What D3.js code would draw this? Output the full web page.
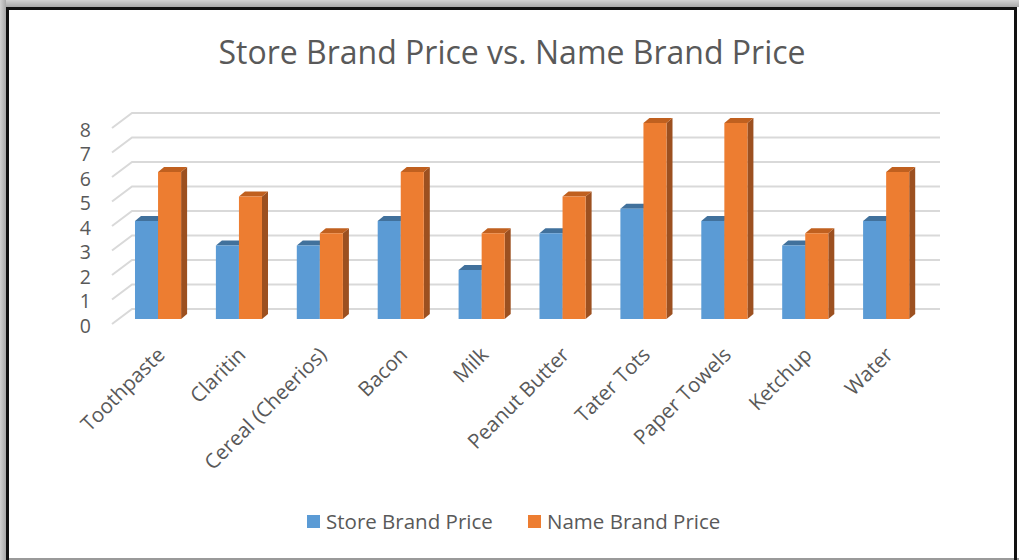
<!DOCTYPE html>
<html>
<head>
<meta charset="utf-8">
<script src="https://cdn.jsdelivr.net/npm/d3@7"></script>
<style>
  body { margin: 0; background: #fff; }
  svg { display: block; font-family: "Open Sans", sans-serif; }
</style>
</head>
<body>
<svg width="1019" height="560"></svg>
<script>
const categories = ["Toothpaste", "Claritin", "Cereal (Cheerios)", "Bacon", "Milk",
  "Peanut Butter", "Tater Tots", "Paper Towels", "Ketchup", "Water"];
const storeBrand = [4, 3, 3, 4, 2, 3.5, 4.5, 4, 3, 4];
const nameBrand = [6, 5, 3.5, 6, 3.5, 5, 8, 8, 3.5, 6];
const seriesNames = ["Store Brand Price", "Name Brand Price"];
const yTicks = [0, 1, 2, 3, 4, 5, 6, 7, 8];

const width = 1019;
const height = 560;

const colors = {
  "Store Brand Price": { front: "#5b9bd5", top: "#41719c", side: "#3f6f9a" },
  "Name Brand Price": { front: "#ed7d31", top: "#c0601f", side: "#9c5020" }
};

const svg = d3.select("svg")
  .attr("width", width)
  .attr("height", height);

// frame: grey shadow top/left, dark border
const defs = svg.append("defs");
const gTop = defs.append("linearGradient").attr("id", "shTop")
  .attr("x1", 0).attr("y1", 0).attr("x2", 0).attr("y2", 1);
gTop.append("stop").attr("offset", 0).attr("stop-color", "#d2d2d2");
gTop.append("stop").attr("offset", 1).attr("stop-color", "#a8a8a8");
const gLeft = defs.append("linearGradient").attr("id", "shLeft")
  .attr("x1", 0).attr("y1", 0).attr("x2", 1).attr("y2", 0);
gLeft.append("stop").attr("offset", 0).attr("stop-color", "#d2d2d2");
gLeft.append("stop").attr("offset", 1).attr("stop-color", "#a8a8a8");

svg.append("rect").attr("width", width).attr("height", height).attr("fill", "#fff");
svg.append("rect").attr("x", 0).attr("y", 0).attr("width", width).attr("height", 7)
  .attr("fill", "url(#shTop)");
svg.append("rect").attr("x", 0).attr("y", 0).attr("width", 6).attr("height", height)
  .attr("fill", "url(#shLeft)");
svg.append("line").attr("x1", 7).attr("x2", width).attr("y1", 559).attr("y2", 559)
  .attr("stroke", "#9a9a9a").attr("stroke-width", 2);
svg.append("rect").attr("x", 7.5).attr("y", 8.5).attr("width", 1008).attr("height", 560)
  .attr("fill", "none").attr("stroke", "#111").attr("stroke-width", 3);

// title
svg.append("text")
  .attr("x", 512)
  .attr("y", 64)
  .attr("text-anchor", "middle")
  .attr("fill", "#595959")
  .attr("font-size", 32)
  .text("Store Brand Price vs. Name Brand Price");

// scales: back wall and front plane of bars
const yBack = d3.scaleLinear().domain([0, 8]).range([309, 113]);
const yBar = d3.scaleLinear().domain([0, 8]).range([319, 123]);

const x = d3.scaleBand()
  .domain(categories)
  .range([117.6, 926.6])
  .paddingInner(0.43)
  .paddingOuter(0.215);

const xSeries = d3.scaleBand()
  .domain(seriesNames)
  .range([0, x.bandwidth()]);

const wallDx = 20, wallDy = -15;   // side wall depth
const barDx = 6, barDy = -5;       // bar depth

// gridlines on back wall + side wall diagonals
const grid = svg.append("g")
  .attr("stroke", "#d9d9d9")
  .attr("stroke-width", 2)
  .attr("fill", "none");

grid.selectAll("path")
  .data(yTicks)
  .enter().append("path")
  .attr("d", d => `M${132 - wallDx},${yBack(d) - wallDy} L132,${yBack(d)} L940,${yBack(d)}`);

// y labels
svg.append("g")
  .selectAll("text")
  .data(yTicks)
  .enter().append("text")
  .attr("x", 91)
  .attr("y", d => yBack(d) - wallDy + 2)
  .attr("dy", "0.35em")
  .attr("text-anchor", "end")
  .attr("fill", "#595959")
  .attr("font-size", 19.5)
  .text(d => d);

// bars
const rows = categories.map((c, i) => ({
  category: c,
  values: [
    { series: seriesNames[0], value: storeBrand[i] },
    { series: seriesNames[1], value: nameBrand[i] }
  ]
}));

const groups = svg.append("g")
  .selectAll("g")
  .data(rows)
  .enter().append("g")
  .attr("transform", d => `translate(${x(d.category)},0)`);

const bars = groups.selectAll("g")
  .data(d => d.values)
  .enter().append("g");

const bw = xSeries.bandwidth();

bars.append("path")
  .attr("fill", d => colors[d.series].side)
  .attr("d", d => {
    const x1 = xSeries(d.series) + bw, y0 = yBar(0), y1 = yBar(d.value);
    return `M${x1},${y1} L${x1 + barDx},${y1 + barDy} L${x1 + barDx},${y0 + barDy} L${x1},${y0} Z`;
  });

bars.append("path")
  .attr("fill", d => colors[d.series].top)
  .attr("d", d => {
    const x0 = xSeries(d.series), y1 = yBar(d.value);
    return `M${x0},${y1} L${x0 + barDx},${y1 + barDy} L${x0 + bw + barDx},${y1 + barDy} L${x0 + bw},${y1} Z`;
  });

bars.append("rect")
  .attr("x", d => xSeries(d.series))
  .attr("y", d => yBar(d.value))
  .attr("width", bw)
  .attr("height", d => yBar(0) - yBar(d.value))
  .attr("fill", d => colors[d.series].front);

// category labels
svg.append("g")
  .selectAll("text")
  .data(categories)
  .enter().append("text")
  .attr("transform", d => `translate(${x(d) + x.bandwidth() / 2 + 8},${356}) rotate(-45)`)
  .attr("text-anchor", "end")
  .attr("fill", "#595959")
  .attr("font-size", 20.5)
  .text(d => d);

// legend
const legend = svg.append("g")
  .selectAll("g")
  .data(seriesNames)
  .enter().append("g")
  .attr("transform", (d, i) => `translate(${i === 0 ? 307 : 528},515)`);

legend.append("rect")
  .attr("width", 13)
  .attr("height", 13)
  .attr("fill", d => colors[d].front);

legend.append("text")
  .attr("x", 19)
  .attr("y", 7)
  .attr("dy", "0.35em")
  .attr("fill", "#595959")
  .attr("font-size", 20.5)
  .text(d => d);
</script>
</body>
</html>
